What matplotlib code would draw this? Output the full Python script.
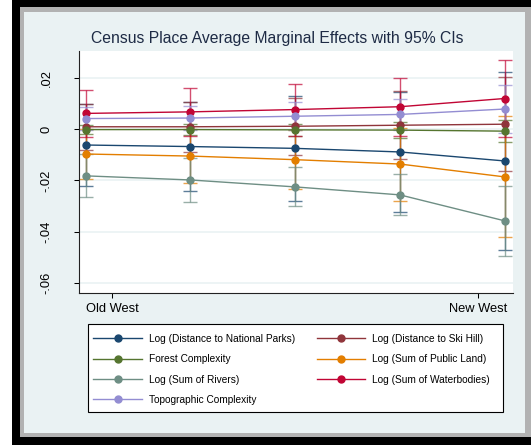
import matplotlib
matplotlib.use("Agg")
import matplotlib.pyplot as plt
from matplotlib.patches import Rectangle

plt.rcParams['font.family'] = ['Liberation Sans', 'DejaVu Sans']

W, H = 531, 445

# -------------------
# data
# -------------------
x = [0, 1, 2, 3, 4]
xtick_pos = [0.25, 3.75]
xtick_labels = ["Old West", "New West"]
ytick_pos = [0.02, 0, -0.02, -0.04, -0.06]
ytick_labels = [".02", "0", "-.02", "-.04", "-.06"]

parks = [-0.0062, -0.0068, -0.0075, -0.0089, -0.0124]
parks_ci = [0.0160, 0.0172, 0.0203, 0.0234, 0.0346]
ski = [0.0009, 0.0009, 0.0011, 0.0015, 0.0019]
ski_ci = [0.0090, 0.0097, 0.0110, 0.0132, 0.0184]
forest = [-0.0002, -0.0002, -0.0003, -0.0004, -0.0008]
forest_ci = [0.0018, 0.0020, 0.0023, 0.0030, 0.0042]
public = [-0.0097, -0.0105, -0.0119, -0.0136, -0.0186]
public_ci = [0.0098, 0.0105, 0.0116, 0.0142, 0.0235]
rivers = [-0.0182, -0.0198, -0.0225, -0.0256, -0.0357]
rivers_ci = [0.0084, 0.0084, 0.0076, 0.0080, 0.0136]
water = [0.0061, 0.0067, 0.0076, 0.0087, 0.0119]
water_ci = [0.0090, 0.0093, 0.0101, 0.0112, 0.0149]
topo = [0.0041, 0.0043, 0.0050, 0.0057, 0.0078]
topo_ci = [0.0046, 0.0048, 0.0055, 0.0059, 0.0093]

series = [
    ("Log (Distance to National Parks)", parks, parks_ci, "#1a476f"),
    ("Log (Distance to Ski Hill)", ski, ski_ci, "#90353b"),
    ("Forest Complexity", forest, forest_ci, "#55752f"),
    ("Log (Sum of Public Land)", public, public_ci, "#e37e00"),
    ("Log (Sum of Rivers)", rivers, rivers_ci, "#6e8e84"),
    ("Log (Sum of Waterbodies)", water, water_ci, "#c10534"),
    ("Topographic Complexity", topo, topo_ci, "#938dd2"),
]


def px_rect(x0, y0, x1, y1, **kw):
    return Rectangle((x0 / W, 1 - y1 / H), (x1 - x0) / W, (y1 - y0) / H,
                     transform=fig.transFigure, **kw)


fig = plt.figure(figsize=(W / 100, H / 100), dpi=100, facecolor="white")

# frame around the graph region
fig.add_artist(px_rect(12, 0, 531, 445, facecolor="black", edgecolor="none", zorder=-10))
fig.add_artist(px_rect(20, 7, 531, 437, facecolor="#b2b2b2", edgecolor="none", zorder=-9))
fig.add_artist(px_rect(24, 12, 525, 433, facecolor="#eaf2f3", edgecolor="none", zorder=-8))

ax = fig.add_axes([78.5 / W, 1 - 293.3 / H, (513 - 78.5) / W, (293.3 - 50.7) / H])
ax.set_facecolor("white")

# CIs first, then the connected points
for name, vals, ci, col in series:
    ax.errorbar(x, vals, yerr=ci, fmt="none", ecolor=col, elinewidth=1.0,
                capsize=5, capthick=1.0, alpha=0.7, zorder=2)
handles = {}
for name, vals, ci, col in series:
    h, = ax.plot(x, vals, color=col, lw=1.0, marker="o", markersize=5, zorder=3)
    handles[name] = h

ax.set_xlim(-0.069, 4.08)
ax.set_ylim(-0.0639, 0.0305)
ax.set_xticks(xtick_pos)
ax.set_xticklabels(xtick_labels)
ax.set_yticks(ytick_pos)
ax.set_yticklabels(ytick_labels, rotation=90, va="center")
ax.tick_params(axis="y", length=3.8, width=0.75, pad=15, labelsize=9.3, colors="black")
ax.tick_params(axis="x", length=3.8, width=0.75, pad=3, labelsize=9.3, colors="black")
ax.grid(axis="y", color="#eaf2f3", lw=1.2, zorder=0)
ax.set_axisbelow(True)
for s in ["top", "right"]:
    ax.spines[s].set_visible(False)
for s in ["left", "bottom"]:
    ax.spines[s].set_linewidth(0.8)
    ax.spines[s].set_color("#222222")

fig.text(277 / W, 1 - 38 / H, "Census Place Average Marginal Effects with 95% CIs",
         ha="center", va="center", fontsize=11.3, color="#1e2b45")

# legend: box drawn by hand, entries ordered row by row like the original
fig.add_artist(px_rect(88.3, 324.3, 502.7, 412.3, facecolor="white", edgecolor="black",
                       lw=0.8, zorder=1))
order = [0, 2, 4, 6, 1, 3, 5]
names = [series[i][0] for i in order]
leg = fig.legend([handles[n] for n in names], names, loc="upper left",
                 bbox_to_anchor=(93.3 / W, 1 - 334.0 / H), bbox_transform=fig.transFigure,
                 ncol=2, frameon=False, fontsize=7.3, handlelength=4.8, handletextpad=0.66,
                 columnspacing=2.15, labelspacing=1.02, borderpad=0, borderaxespad=0)
leg.set_zorder(2)

plt.savefig("out.png", dpi=100)
